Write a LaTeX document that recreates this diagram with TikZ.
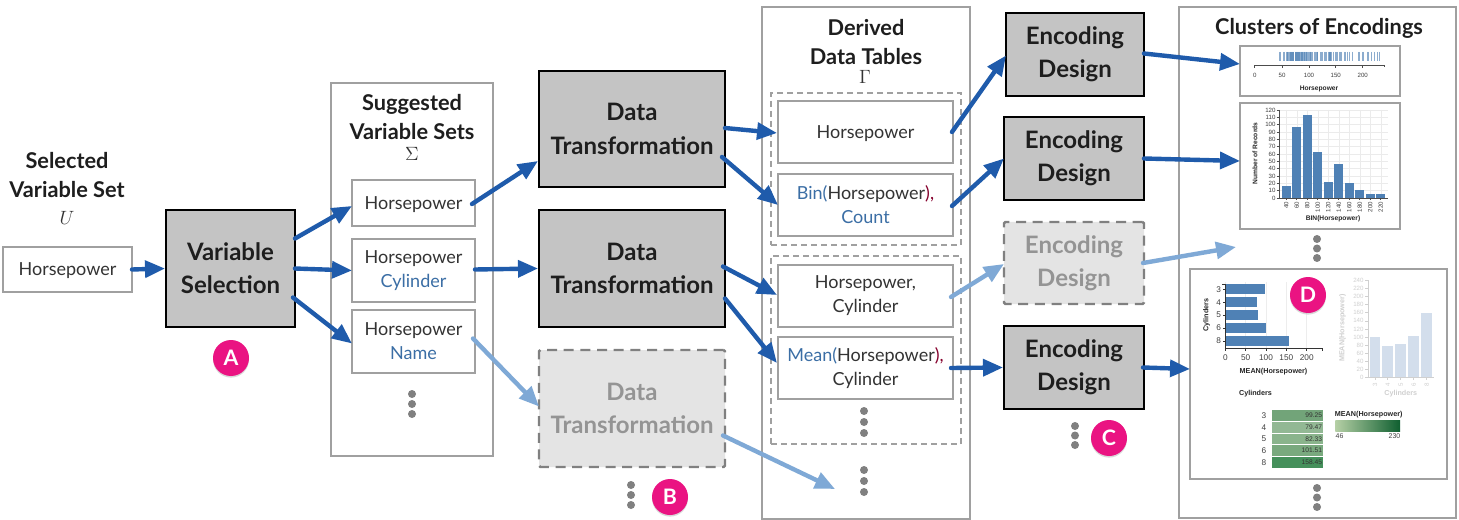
\documentclass[tikz,border=0pt]{standalone}
\usepackage[no-math]{fontspec}
\setmainfont{Lato}
\newfontfamily\chartfont{Liberation Sans}
\usetikzlibrary{arrows.meta,calc,shadows}
\definecolor{arrdark}{HTML}{1F5BAB}
\definecolor{arrlight}{HTML}{7FA9D6}
\definecolor{boxgray}{HTML}{A0A0A0}
\definecolor{procfill}{HTML}{C4C4C4}
\definecolor{ghostfill}{HTML}{E4E4E4}
\definecolor{ghosttext}{HTML}{949494}
\definecolor{varblue}{HTML}{3B6EA5}
\definecolor{txt}{HTML}{333333}
\definecolor{bar}{HTML}{4F81B5}
\definecolor{barfaint}{HTML}{D3DEEC}
\definecolor{faint}{HTML}{D0D0D0}
\definecolor{badge}{HTML}{EA1382}
\definecolor{dotc}{HTML}{808080}
\definecolor{headc}{HTML}{1E1E1E}
\newcommand\fsz[2]{\fontsize{#1}{#2}\selectfont}
\tikzset{
 x=0.75pt,y=-0.75pt,
 every node/.style={inner sep=0pt,outer sep=0pt},
 item/.style={draw=boxgray,line width=1.1pt,fill=white,text=txt,align=center,font=\fsz{13.5}{18}},
 proc/.style={draw=black,line width=2.2pt,fill=procfill,text=headc,align=center,font=\bfseries\fsz{18}{25}},
 ghost/.style={draw=dotc,line width=1.8pt,dash pattern=on 7.5pt off 5pt,rounded corners=1pt,fill=ghostfill,text=ghosttext,align=center,font=\bfseries\fsz{18}{25}},
 panel/.style={draw=boxgray,line width=1.1pt,fill=white},
 group/.style={draw=boxgray,line width=0.9pt,dash pattern=on 4.5pt off 3pt},
 head/.style={text=headc,align=center,font=\bfseries\fsz{16.3}{21.8}},
 arr/.style={draw=arrdark,line width=3.3pt,line cap=round,-{Triangle[length=15pt,width=12.5pt]}},
 arrl/.style={draw=arrlight,line width=3.3pt,line cap=round,-{Triangle[length=15pt,width=12.5pt]}},
 gdot/.style={circle,fill=dotc,minimum size=6pt},
 badgenode/.style={circle,fill=badge,text=white,minimum size=27pt,font=\bfseries\fsz{16}{16},drop shadow={opacity=.3,shadow xshift=0pt,shadow yshift=-1.2pt}},
 ct/.style={font=\chartfont\fsz{4.6}{5},text=black!75},
 ctb/.style={font=\chartfont\bfseries\fsz{5}{6},text=black!85},
 cf/.style={font=\chartfont\fsz{4.6}{5},text=faint},
 cfb/.style={font=\chartfont\bfseries\fsz{5}{6},text=faint},
 clab/.style={font=\chartfont\bfseries\fsz{5.4}{7},text=black!85},
}
% name, x1,y1,x2,y2, style, text
\newcommand\bx[7]{\node[#6,minimum width={(#4-#2)*0.75pt},minimum height={(#5-#3)*0.75pt}] (#1) at ({(#2+#4)/2},{(#3+#5)/2}) {#7};}
\newcommand\threedots[4]{% prefix, x, y, gap
 \node[gdot] (#1a) at (#2,#3) {};
 \node[gdot] (#1b) at (#2,#3+#4) {};
 \node[gdot] (#1c) at (#2,#3+#4+#4) {};}
\begin{document}
\begin{tikzpicture}
\useasboundingbox (0,0) rectangle (1459,520);
\fill[white] (0,0) rectangle (1459,520);
% panels
\bx{psug}{331}{83}{493}{456}{panel}{}
\bx{pder}{762}{7}{970}{519}{panel}{}
\bx{pclu}{1179}{7}{1456}{518}{panel}{}
\bx{g1}{771}{93}{961}{245}{group}{}
\bx{g2}{771}{256}{961}{444}{group}{}
% headings
\node[head] (hU) at (67,175) {Selected\\Variable Set};
\node[text=txt,font=\fsz{14}{16}] (mU) at (67,218) {$U$};
\node[head] (hS) at (412,117) {Suggested\\Variable Sets};
\node[text=txt,font=\fsz{14}{16}] (mS) at (412,154) {$\Sigma$};
\node[head] (hD) at (866,42) {Derived\\Data Tables};
\node[text=txt,font=\fsz{14}{16}] (mD) at (865,77) {$\Gamma$};
\node[head] (hC) at (1319,28) {Clusters of Encodings};
% items
\bx{u}{3}{247}{132}{292}{item,text depth=0pt}{Horsepower}
\bx{s1}{352}{180}{475}{226}{item,text depth=0pt}{Horsepower}
\bx{s2}{352}{239}{475}{302}{item}{Horsepower\\\textcolor{varblue}{Cylinder}}
\bx{s3}{352}{310}{475}{373}{item}{Horsepower\\\textcolor{varblue}{Name}}
\bx{d1}{778}{101}{953}{163}{item,text depth=0pt}{Horsepower}
\bx{d2}{778}{174}{953}{236}{item}{\textcolor{varblue}{Bin(}Horsepower\textcolor{purple!70!black}{),}\\\textcolor{varblue}{Count}}
\bx{d3}{778}{265}{953}{327}{item}{Horsepower,\\Cylinder}
\bx{d4}{778}{337}{953}{399}{item}{\textcolor{varblue}{Mean(}Horsepower\textcolor{purple!70!black}{),}\\Cylinder}
% processes
\bx{vs}{166}{210}{295}{327}{proc}{Variable\\Selection}
\bx{t1}{539}{71}{725}{187}{proc}{Data\\Transformation}
\bx{t2}{539}{210}{725}{327}{proc}{Data\\Transformation}
\bx{t3}{539}{350}{725}{467}{ghost}{Data\\Transformation}
\bx{e1}{1006}{13}{1144}{96}{proc}{Encoding\\Design}
\bx{e2}{1004}{117}{1144}{200}{proc}{Encoding\\Design}
\bx{e3}{1004}{222}{1144}{304}{ghost}{Encoding\\Design}
\bx{e4}{1004}{326}{1144}{409}{proc}{Encoding\\Design}
% chart frames
\bx{c1}{1240}{46}{1400}{96}{panel}{}
\bx{c2}{1240}{103}{1400}{229}{panel}{}
\bx{c3}{1190}{269}{1447}{479}{panel}{}
% dots
\threedots{ds}{412}{394}{10}
\threedots{dt}{631}{485}{10}
\threedots{dd}{864}{411}{11}
\threedots{de}{864}{470}{11}
\threedots{dc}{1075}{426}{9.5}
\threedots{du}{1317}{239}{9.5}
\threedots{dv}{1317}{488}{9.5}
\coordinate (endt) at (835,489);
\coordinate (ende) at (1236,247);
% connectors
\draw[arr] (u.east) -- ($(vs.west)+(-1,0)$);
\draw[arr] ($(vs.east)+(0,-30)$) -- ($(s1.west)+(0,3)$);
\draw[arr] (vs.east) -- (s2.west);
\draw[arr] ($(vs.east)+(-2,29)$) -- ($(s3.west)+(0,2)$);
\draw[arr] ($(s1.east)+(-3,1)$) -- ($(t1.west)+(-1,32)$);
\draw[arr] ($(s2.east)+(0,-1)$) -- ($(t2.west)+(-1,0)$);
\draw[arrl] ($(s3.east)+(-2,-3)$) -- ($(t3.west)+(0,-2)$);
\draw[arr] ($(t1.east)+(0,-1)$) -- ($(d1.west)+(-1,1)$);
\draw[arr] ($(t1.east)+(-3,28)$) -- ($(d2.west)+(0,0)$);
\draw[arr] ($(t2.east)+(-2,-2)$) -- ($(d3.west)+(-1,-1)$);
\draw[arr] ($(t2.east)+(0,30)$) -- ($(d4.west)+(-1,-5)$);
\draw[arrl] ($(t3.east)+(-2,27)$) -- (endt);
\draw[arr] ($(d1.east)+(-1,0)$) -- ($(e1.west)+(0,1)$);
\draw[arr] ($(d2.east)+(-1,1)$) -- ($(e2.west)+(0,0)$);
\draw[arrl] ($(d3.east)+(-2,1)$) -- ($(e3.west)+(0,1)$);
\draw[arr] ($(d4.east)+(-2,0)$) -- ($(e4.west)+(-1,0)$);
\draw[arr] ($(e1.east)+(0,-1)$) -- ($(c1.west)+(0,-7)$);
\draw[arr] ($(e2.east)+(0,0)$) -- ($(c2.west)+(0,-5)$);
\draw[arrl] ($(e3.east)+(-1,0)$) -- (ende);
\draw[arr] ($(e4.east)+(-1,0)$) -- ($(c3.west)+(0,-5)$);
% chart 1: strip plot
\begin{scope}
\foreach \h in {46,48,52,54,58,60,61,62,63,65,66,67,68,69,70,71,72,74,75,76,77,78,79,80,81,82,83,84,85,86,87,88,90,91,92,93,95,96,97,98,100,102,103,105,107,110,112,113,115,116,120,122,125,129,130,132,135,137,138,139,140,142,145,148,150,153,155,158,160,165,167,170,175,180,190,193,198,200,208,210,215,220,225,230}
 \draw[bar,opacity=.65,line width=.55pt] ({1254.7+\h*0.543},52) -- ({1254.7+\h*0.543},61);
\draw[black!70,line width=.5pt] (1254.7,67.5) -- (1254.7,65.7) -- (1384,65.7) -- (1384,67.5);
\foreach \v/\px in {0/1254.7,50/1282,100/1309,150/1335.7,200/1362.7}{
 \draw[black!70,line width=.5pt] (\px,65.7) -- (\px,68);
 \node[ct] at (\px,75) {\v};}
\node[ctb] at (1319,89) {Horsepower};
\end{scope}
% chart 2: histogram
\begin{scope}
\foreach \v in {0,...,12}
 \draw[black!8,line width=.4pt] (1279,{198-\v*7.33}) -- (1388,{198-\v*7.33});
\foreach \i in {0,...,9}
 \draw[black!8,line width=.4pt] ({1286.5+\i*10.5},110) -- ({1286.5+\i*10.5},198);
\foreach \i/\h/\lab in {0/16/40,1/97/60,2/113/80,3/63/100,4/22/120,5/47/140,6/20/160,7/11/180,8/6/200,9/5/220}{
 \fill[bar] ({1281.5+\i*10.5},198) rectangle ({1281.5+\i*10.5+9.2},{198-\h*0.733});
 \draw[black!70,line width=.4pt] ({1286.2+\i*10.5},198) -- ({1286.2+\i*10.5},200);
 \node[ct,rotate=90,anchor=east] at ({1286.2+\i*10.5},202) {\lab};}
\foreach \v in {0,...,12}{
 \draw[black!70,line width=.4pt] (1276.5,{198-\v*7.33}) -- (1279.3,{198-\v*7.33});
 \node[ct,anchor=east] at (1275.5,{198-\v*7.33}) {\the\numexpr\v*10\relax};}
\draw[black!70,line width=.5pt] (1279.3,110) -- (1279.3,198) -- (1388,198);
\node[ctb,rotate=90] at (1255,153.5) {Number of Records};
\node[ctb] at (1333,219) {BIN(Horsepower)};
\end{scope}
% chart 3a: horizontal bars
\begin{scope}
\foreach \v in {0,...,4}
 \draw[black!7,line width=.4pt] ({1225.3+\v*20.3},282) -- ({1225.3+\v*20.3},348);
\foreach \ly/\rx/\lab in {289.3/1265.3/3,302.3/1256.7/4,315/1258/5,328/1266/6,341/1289.3/8}{
 \fill[bar] (1225.3,{\ly-5}) rectangle (\rx,{\ly+5});
 \draw[black!80,line width=.5pt] (1223,\ly) -- (1225.3,\ly);
 \node[font=\chartfont\fsz{6.2}{7},text=black!75,anchor=east] at (1221,\ly) {\lab};}
\draw[black!80,line width=.6pt] (1222,284) -- (1225.3,284) -- (1225.3,348.3) -- (1322.7,348.3) -- (1322.7,351);
\foreach \v/\px in {0/1225.3,50/1245.7,100/1266,150/1286.3,200/1306.7}{
 \draw[black!80,line width=.5pt] (\px,348.3) -- (\px,351);
 \node[font=\chartfont\fsz{6.2}{7},text=black!75] at (\px,357.5) {\v};}
\node[clab,rotate=90] at (1206.5,315) {Cylinders};
\node[clab] at (1273.5,372) {MEAN(Horsepower)};
\end{scope}
% chart 3b: faint columns
\begin{scope}
\foreach \px/\ty/\lab in {1375/337.3/3,1387.7/345.7/4,1400.7/344/5,1413.7/336.3/6,1426.7/313.3/8}{
 \fill[barfaint] ({\px-5.3},377.7) rectangle ({\px+5.3},\ty);
 \draw[faint,line width=.4pt] (\px,377.7) -- (\px,380);
 \node[cf,rotate=90] at (\px,384.5) {\lab};}
\foreach \v in {0,...,12}{
 \draw[faint,line width=.4pt] (1365,{377.7-\v*8.13}) -- (1368.3,{377.7-\v*8.13});
 \node[cf,anchor=east] at (1363.5,{377.7-\v*8.13}) {\the\numexpr\v*20\relax};}
\draw[faint,line width=.5pt] (1368.3,280) -- (1368.3,377.7) -- (1434,377.7);
\node[cfb,font=\chartfont\bfseries\fsz{5.4}{7},rotate=90] at (1342.5,328) {MEAN(Horsepower)};
\node[cfb,font=\chartfont\bfseries\fsz{5.4}{7}] at (1400.7,394) {Cylinders};
\end{scope}
% chart 3c: table
\begin{scope}
\node[clab] at (1255.5,394) {Cylinders};
\foreach \ty/\by/\c/\lab/\val in {409.7/421/72A479/3/99.25,421.7/432.7/92B894/4/79.47,433.7/444.3/8AB48C/5/82.33,445.3/456/79A97E/6/101.51,457/467.7/45905B/8/158.45}{
 \definecolor{cellc}{HTML}{\c}
 \fill[cellc] (1271.7,\ty) rectangle (1323.3,\by);
 \node[font=\chartfont\fsz{6.2}{7},text=black!75] at (1264,{(\ty+\by)/2}) {\lab};
 \node[font=\chartfont\fsz{5}{6},text=black!80,anchor=east] at (1322,{(\ty+\by)/2}) {\val};}
\node[clab] at (1368.7,415) {MEAN(Horsepower)};
\definecolor{gradl}{HTML}{B5CFA5}
\definecolor{gradr}{HTML}{0F5F30}
\shade[left color=gradl,right color=gradr] (1335.3,420.7) rectangle (1400,431.3);
\node[font=\chartfont\fsz{5.2}{6},text=black!75] at (1339.5,436) {46};
\node[font=\chartfont\fsz{5.2}{6},text=black!75] at (1394.5,436) {230};
\end{scope}
% badges
\node[badgenode] (ba) at (231,358) {A};
\node[badgenode] (bb) at (670,497) {B};
\node[badgenode] (bc) at (1109,438) {C};
\node[badgenode] (bd) at (1308,295) {D};
\end{tikzpicture}
\end{document}
